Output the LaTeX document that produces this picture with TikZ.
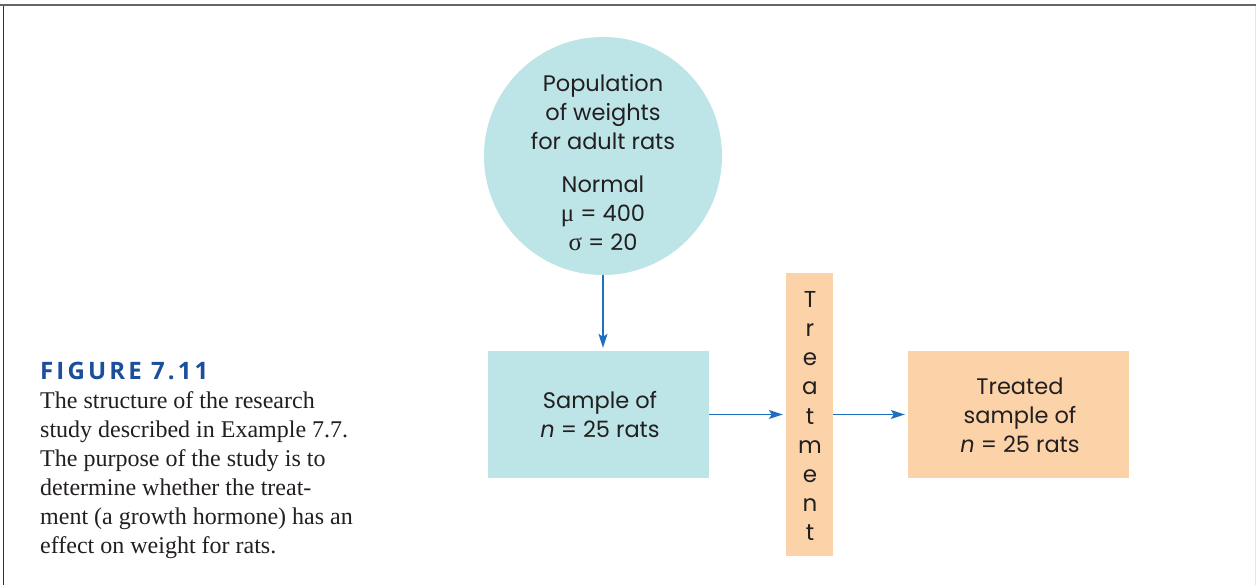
\documentclass[tikz,border=0pt]{standalone}
\usepackage{fontspec}
\setmainfont{Liberation Serif}
\newfontfamily\diagfont{Poppins}
\newfontfamily\titlefont[LetterSpace=13]{Open Sans}
\newfontfamily\greekfont{Liberation Serif}
\usetikzlibrary{arrows.meta}
\definecolor{popfill}{HTML}{BDE4E6}
\definecolor{trtfill}{HTML}{FCD3A8}
\definecolor{arrowblue}{HTML}{1F6FC0}
\definecolor{titleblue}{HTML}{1B4E9B}
\definecolor{txt}{HTML}{231F20}
\tikzset{
  diag/.style={font=\diagfont\fontsize{22.5}{29}\selectfont, text=txt, align=center},
  bluebox/.style={fill=popfill, draw=none, minimum width=221pt, minimum height=127pt, inner sep=0pt},
  orangebox/.style={fill=trtfill, draw=none, minimum width=221pt, minimum height=127pt, inner sep=0pt},
  flow/.style={draw=arrowblue, line width=1.3pt, shorten >=3pt, -{Stealth[length=14pt,width=9pt,inset=3pt]}},
  capline/.style={anchor=base west, inner sep=0pt, text=txt, font=\fontsize{24}{29}\selectfont},
}
\begin{document}
\begin{tikzpicture}[x=1pt,y=-1pt]
\useasboundingbox (0,0) rectangle (1256,585);
\fill[white] (0,0) rectangle (1256,585);
% frame lines
\draw[draw=gray!80!black, line width=2pt] (0,5.5) -- (1256,5.5);
\draw[draw=black!80, line width=0.8pt] (3.5,6) -- (3.5,585);
\draw[draw=black!10, line width=0.8pt] (1255.5,6) -- (1255.5,585);
% population circle
\node[circle, fill=popfill, minimum size=238pt, inner sep=0pt] (pop) at (603,156) {};
\node[diag] (poptext) at (603,163) {Population\\of weights\\for adult rats\\[14pt]Normal\\{\greekfont\fontsize{25}{29}\selectfont μ} = 400\\{\greekfont\fontsize{25}{29}\selectfont σ} = 20};
% sample box
\node[bluebox] (sample) at (598.5,414.5) {};
\node[diag] (sampletext) at (600,415) {Sample of\\\textit{n} = 25 rats};
% treatment bar
\node[fill=trtfill, minimum width=47pt, minimum height=283pt, inner sep=0pt] (trt) at (809.5,414.5) {};
\node[diag, font=\diagfont\fontsize{23}{29.1}\selectfont] (trttext) at (810,416) {T\\r\\e\\a\\t\\m\\e\\n\\t};
% treated box
\node[orangebox] (treated) at (1018.5,414.5) {};
\node[diag] (treatedtext) at (1020,415) {Treated\\sample of\\\textit{n} = 25 rats};
% arrows
\draw[flow] (pop.south) -- (pop.south |- sample.north);
\draw[flow] (sample.east) -- (trt.west);
\draw[flow] (trt.east) -- (treated.west);
% caption
\node[anchor=base west, inner sep=0pt, text=titleblue, font=\titlefont\bfseries\fontsize{24}{28}\selectfont] (title) at (40,379) {FIGURE 7.11};
\node[capline] (cap1) at (40,408) {The structure of the research};
\node[capline] (cap2) at (40,437) {study described in Example 7.7.};
\node[capline] (cap3) at (40,466) {The purpose of the study is to};
\node[capline] (cap4) at (40,495) {determine whether the treat-};
\node[capline] (cap5) at (40,524) {ment (a growth hormone) has an};
\node[capline] (cap6) at (40,553) {effect on weight for rats.};
\end{tikzpicture}
\end{document}
